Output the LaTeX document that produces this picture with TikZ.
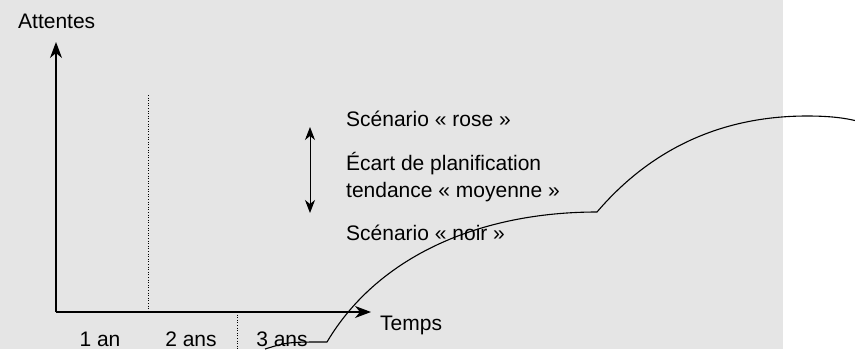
\documentclass[tikz,border=0pt]{standalone}
\usepackage{fontspec}
\setmainfont{Liberation Sans}
\usetikzlibrary{arrows.meta,positioning}

\begin{document}
\begin{tikzpicture}[x=1pt, y=-1pt, every node/.style={font=\fontsize{21}{25}\selectfont, inner sep=0pt},
  axis/.style={line width=1.1pt, -{Stealth[length=16pt, width=12pt, inset=5pt]}},
  gridline/.style={line width=0.9pt, dash pattern=on 1pt off 1.6pt},
  label/.style={anchor=base west}]

% Background
\fill[white] (0,0) rectangle (855,349);
\fill[gray!20] (0,0) rectangle (783,349);
\useasboundingbox (0,0) rectangle (855,349);

% Axes
\coordinate (O) at (56,312);
\coordinate (ytop) at (56,42);
\coordinate (xend) at (371,312);
\draw[axis] (O) -- (ytop);
\draw[axis] (O) -- (xend);

\node (att) at (18,28) [label] {Attentes};
\node (temps) at (380,330) [label] {Temps};

% Years
\coordinate (d1top) at (148,95);
\coordinate (d1bot) at (148,312);
\coordinate (d2top) at (237,312);
\coordinate (d2bot) at (237,349);
\draw[gridline] (d1top) -- (d1bot);
\draw[gridline] (d2top) -- (d2bot);

\node (an1) at (100,346) [anchor=base] {1 an};
\node (an2) at (191,346) [anchor=base] {2 ans};
\node (an3) at (282,346) [anchor=base] {3 ans};

% Scenarios
\coordinate (gaptop) at (310,127);
\coordinate (gapbot) at (310,213);
\draw[line width=1pt, {Stealth[length=13pt, width=10pt, inset=4pt]}-{Stealth[length=13pt, width=10pt, inset=4pt]}] (gaptop) -- (gapbot);

\node (rose) at (346,126) [label] {Scénario « rose »};
\node (gap1) at (346,170) [label] {Écart de planification};
\node (gap2) at (346,197) [label] {tendance « moyenne »};
\node (noir) at (346,240) [label] {Scénario « noir »};

% Trend curve
\draw[line width=1.1pt] (265,349) .. controls (288,342) .. (327,342)
  .. controls (378,256) and (480,212) .. (597,212)
  .. controls (650,150) and (720,116) .. (807,116)
  .. controls (830,116) and (845,118) .. (857,121);

\end{tikzpicture}
\end{document}
